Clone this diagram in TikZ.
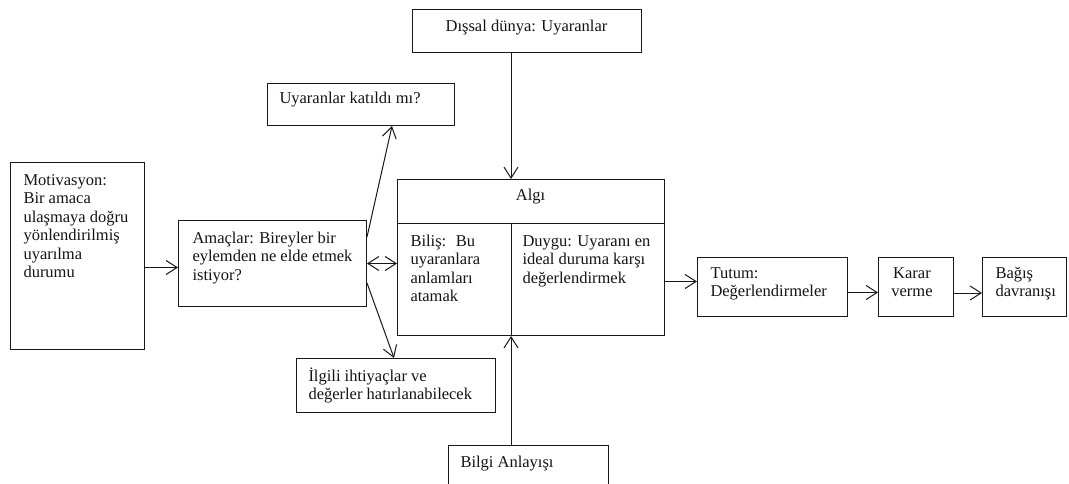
\documentclass[tikz,border=0pt]{standalone}
\usepackage{fontspec}
\setmainfont{Liberation Serif}
\usetikzlibrary{arrows.meta,calc}

\begin{document}
\begin{tikzpicture}[x=1pt,y=-1pt,
  line width=1pt,
  frame/.style={draw=black!90, rectangle, inner sep=0pt, anchor=north west},
  txt/.style={inner sep=0pt, anchor=north west, align=left, text=black!92,
              font=\fontsize{16.5}{18.4}\selectfont},
  ctxt/.style={txt, anchor=north, align=center},
  tip/.style={Straight Barb[length=11pt,width=14pt]},
  arr/.style={draw=black!90, -{Straight Barb[length=11pt,width=14pt]}},
  darr/.style={draw=black!90, {Straight Barb[length=11pt,width=14pt]}-{Straight Barb[length=11pt,width=14pt]}}]

\useasboundingbox (0,0) rectangle (1069,484);
\clip (0,0) rectangle (1069,484);

% boxes (top-left corner, size)
\node[frame, minimum width=134pt, minimum height=187pt] (mot)   at (10,162)  {};
\node[frame, minimum width=188pt, minimum height=86pt]  (amac)  at (178,220) {};
\node[frame, minimum width=187pt, minimum height=42pt]  (uyk)   at (267,83)  {};
\node[frame, minimum width=229pt, minimum height=43pt]  (dis)   at (412,9)   {};
\node[frame, minimum width=267pt, minimum height=156pt] (algi)  at (397,179) {};
\node[frame, minimum width=199pt, minimum height=54pt]  (ilg)   at (296,358) {};
\node[frame, minimum width=160pt, minimum height=60pt]  (bilgi) at (448,445) {};
\node[frame, minimum width=150pt, minimum height=59pt]  (tutum) at (697,257) {};
\node[frame, minimum width=75pt,  minimum height=59pt]  (karar) at (878,257) {};
\node[frame, minimum width=84pt,  minimum height=59pt]  (bagis) at (982,257) {};

% inner partition of the perception box
\coordinate (sepL) at ($(algi.north west)+(0,44)$);
\coordinate (dtop) at ($(algi.north west)+(114,44)$);
\draw[black!90] (sepL) -- (sepL -| algi.east);
\draw[black!90] (dtop) -- (dtop |- algi.south);

% texts
\node[txt]  (tmot)   at (23,172.1)  {\strut Motivasyon:\\Bir amaca\\ulaşmaya doğru\\yönlendirilmiş\\uyarılma\\durumu};
\node[txt]  (tamac)  at (192,230.1) {\strut Amaçlar: Bireyler bir\\eylemden ne elde etmek\\istiyor?};
\node[txt]  (tuyk)   at (279,90.6)  {\strut Uyaranlar katıldı mı?};
\node[ctxt] (tdis)   at (526.5,18.1) {\strut Dışsal dünya: Uyaranlar};
\node[ctxt] (talgi)  at (530.5,187.1) {\strut Algı};
\node[txt]  (tbilis) at (410,233.1) {\strut Biliş: \ Bu\\uyaranlara\\anlamları\\atamak};
\node[txt]  (tduygu) at (522,233.1) {\strut Duygu: Uyaranı en\\ideal duruma karşı\\değerlendirmek};
\node[txt]  (ttutum) at (710,265.1) {\strut Tutum:\\Değerlendirmeler};
\node[ctxt] (tkarar) at (912,265.1) {\strut Karar\\verme};
\node[txt]  (tbagis) at (995,265.1) {\strut Bağış\\davranışı};
\node[txt]  (tilg)   at (308,367.1) {\strut İlgili ihtiyaçlar ve\\değerler hatırlanabilecek};
\node[txt]  (tbilgi) at (460,454.1) {\strut Bilgi Anlayışı};

% connectors
\coordinate (m1) at ($(mot.east)+(0,11.5)$);
\draw[arr] (m1) -- (m1 -| amac.west);
\draw[darr] (amac.east) -- (amac.east -| algi.west);
\draw[arr] ($(amac.north east)+(0,17)$) -- ($(uyk.south west)+(125,0)$);
\draw[arr] ($(amac.south east)+(0,-24)$) -- ($(ilg.north west)+(98,0)$);
\draw[arr] (dtop |- dis.south) -- (dtop |- algi.north);
\draw[arr] (dtop |- bilgi.north) -- (dtop |- algi.south);
\coordinate (a1) at ($(algi.east)+(0,24)$);
\draw[arr] (a1) -- (a1 -| tutum.west);
\coordinate (t1) at ($(tutum.east)+(0,5.5)$);
\draw[arr] (t1) -- (t1 -| karar.west);
\coordinate (k1) at ($(karar.east)+(0,6)$);
\draw[arr] (k1) -- (k1 -| bagis.west);
\end{tikzpicture}
\end{document}
